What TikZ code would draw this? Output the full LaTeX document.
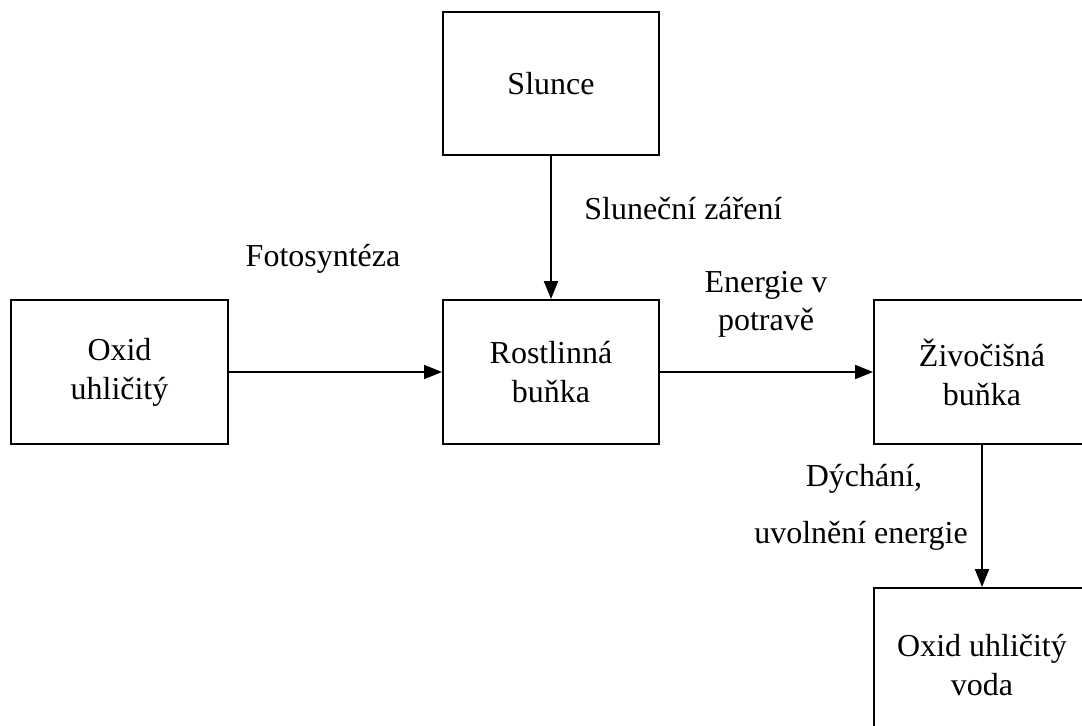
\documentclass[tikz,border=0pt]{standalone}
\usepackage{fontspec}
\setmainfont{Liberation Serif}
\usepackage{tikz}
\usetikzlibrary{arrows.meta}

\begin{document}
\begin{tikzpicture}[x=0.02cm, y=-0.02cm,
    box/.style={draw, line width=1.1pt, inner sep=0pt, align=center,
      minimum width=4.32cm, minimum height=2.88cm,
      font=\fontsize{18.2}{22.2}\selectfont},
    label/.style={inner sep=0pt, align=center, font=\fontsize{18.2}{21.6}\selectfont},
    flow/.style={line width=1.1pt, -{Triangle[length=0.36cm, width=0.28cm]}}]

    % Frame of the page
    \useasboundingbox (0,0) rectangle (1082,726);
    \clip (0,0) rectangle (1082,726);

    % Boxes
    \node[box, minimum height=2.86cm] (slunce) at (551,83.5) {Slunce};
    \node[box, minimum width=4.34cm] (oxid) at (119.5,372) {Oxid\\uhličitý};
    \node[box] (rostlina) at (551,372) {Rostlinná\\buňka};
    \node[box] (zivocich) at (982,372) {Živočišná\\buňka};
    \node[box, minimum height=3.08cm] (vystup) at (982,665) {Oxid uhličitý\\voda};

    % Arrows
    \draw[flow] (slunce) -- (rostlina);
    \draw[flow] (oxid) -- (rostlina);
    \draw[flow] (rostlina) -- (zivocich);
    \draw[flow] (zivocich) -- (vystup);

    % Labels
    \node[label, anchor=base] (fotosynteza) at (323,267) {Fotosyntéza};
    \node[label, anchor=base west] (zareni) at (584,220) {Sluneční záření};
    \node[label] (energie) at (766,304) {Energie v\\potravě};
    \node[label, anchor=base] (dychani) at (864,486) {Dýchání,};
    \node[label, anchor=base] (uvolneni) at (861,543) {uvolnění energie};
\end{tikzpicture}
\end{document}
